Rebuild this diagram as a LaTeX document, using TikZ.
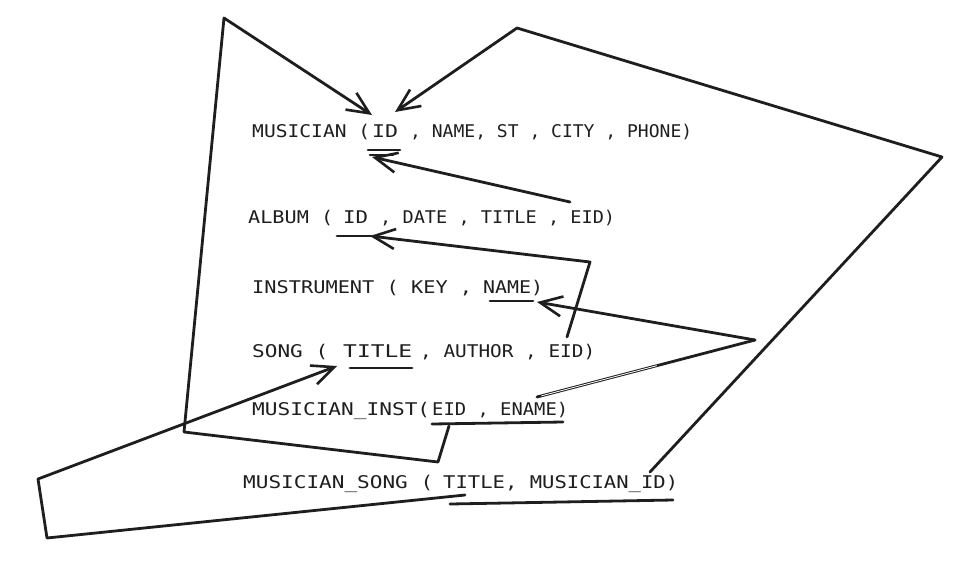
\documentclass[tikz,border=0pt]{standalone}
\usepackage{fontspec}
\usepackage{graphicx}
\newfontfamily\handfont{DejaVu Sans Mono}
\usetikzlibrary{arrows.meta,calc}
\definecolor{inkc}{HTML}{1E1E1E}
\newcommand\fitw[2]{\resizebox{#1pt}{\height}{#2}}
\begin{document}
\begin{tikzpicture}[x=1pt,y=-1pt,
  link/.style={line width=2.8pt, line cap=round, line join=round, draw=inkc},
  arr/.style={link, -{Straight Barb[length=22pt,width=20pt,line width=2.6pt]}},
  uline/.style={line width=2.8pt, line cap=round, draw=inkc},
  rel/.style={font=\handfont\fontsize{17.5}{17.5}\selectfont, inner sep=0pt, anchor=base west, text=inkc}]
\useasboundingbox (0,0) rectangle (980,563);

% relation lines
\node[rel] (musA)  at (252,137) {\fitw{118}{MUSICIAN (}};
\node[rel] (musID) at (372,137) {\fitw{26}{ID}};
\node[rel] (musB)  at (410,137) {\fitw{282}{, NAME, ST , CITY , PHONE)}};

\node[rel] (albA)  at (248,223) {\fitw{85}{ALBUM (}};
\node[rel] (albID) at (343,223) {\fitw{25}{ID}};
\node[rel] (albB)  at (380,223) {\fitw{235}{, DATE , TITLE , EID)}};

\node[rel] (insA)  at (252,293) {\fitw{220}{INSTRUMENT ( KEY ,}};
\node[rel] (insN)  at (483,293) {\fitw{60}{NAME)}};

\node[rel] (sngA)  at (252,357) {\fitw{76}{SONG (}};
\node[rel] (sngT)  at (343,357) {\fitw{69}{TITLE}};
\node[rel] (sngB)  at (420,357) {\fitw{175}{, AUTHOR , EID)}};

\node[rel] (miA)   at (252,415) {\fitw{178}{MUSICIAN\_INST(}};
\node[rel] (miB)   at (432,415) {\fitw{136}{EID , ENAME)}};

\node[rel] (msA)   at (243,488) {\fitw{190}{MUSICIAN\_SONG (}};
\node[rel] (msB)   at (443,488) {\fitw{235}{TITLE, MUSICIAN\_ID)}};

% underlines
\draw[uline] (368,150) -- (400,150);
\draw[uline] (370,155) -- (393,155);
\draw[uline] (337,236) -- (372,236);
\draw[uline] (490,301) -- (533,301);
\draw[uline] (350,368) -- (412,368);
\draw[uline] (432,424) -- (563,422);
\draw[uline] (450,504) -- (673,500);

% connector points
\coordinate (miStub) at (449,426);
\coordinate (b1) at (438,462);
\coordinate (b2) at (184,432);
\coordinate (b3) at (224,18);
\coordinate (musL) at (372,115);
\coordinate (albE) at (570,202);
\coordinate (musU) at (372,157);
\coordinate (sngE) at (567,337);
\coordinate (c1) at (590,262);
\coordinate (albU) at (370,236);
\coordinate (miE) at (537,397);
\coordinate (d1) at (755,340);
\coordinate (insU) at (537,302);
\coordinate (msE) at (650,472);
\coordinate (e1) at (942,157);
\coordinate (e2) at (517,28);
\coordinate (musR) at (395,112);
\coordinate (msT) at (465,495);
\coordinate (f1) at (47,538);
\coordinate (f2) at (38,479);
\coordinate (sngU) at (337,366);

% connectors
\draw[arr] (miStub) -- (b1) -- (b2) -- (b3) -- (musL);
\draw[arr] (albE) -- (musU);
\draw[arr] (sngE) -- (c1) -- (albU);
\draw[link] (miE) -- (d1);
\draw[white, line width=0.8pt, line cap=butt] ($(miE)!0.02!(d1)$) -- ($(miE)!0.55!(d1)$);
\draw[arr] (d1) -- (insU);
\draw[arr] (msE) -- (e1) -- (e2) -- (musR);
\draw[arr] (msT) -- (f1) -- (f2) -- (sngU);
\end{tikzpicture}
\end{document}
